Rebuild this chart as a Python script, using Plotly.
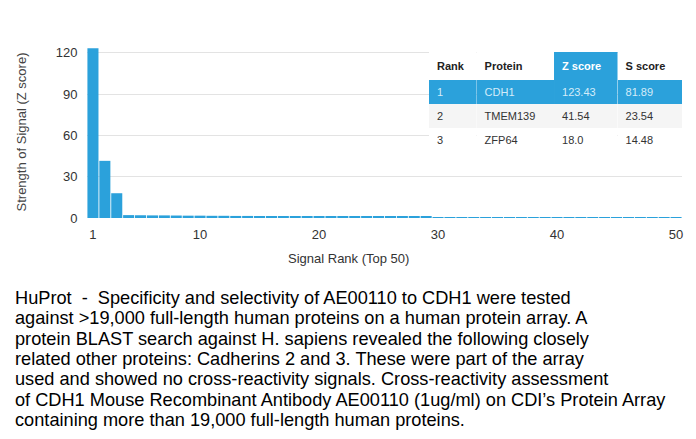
import plotly.graph_objects as go

ranks = list(range(1, 51))
z_scores = [123.43, 41.54, 18.0,
            2.1, 2.0, 1.9, 1.9, 1.8, 1.7, 1.7, 1.6, 1.6, 1.5, 1.5, 1.4, 1.3,
            1.0, 1.0, 0.9, 0.9, 0.9, 0.9, 0.8, 0.8, 0.8, 0.8,
            0.8, 0.8, 0.8, 0.7, 0.7, 0.7, 0.7, 0.7, 0.7, 0.7, 0.7, 0.7,
            0.7, 0.7, 0.7, 0.7, 0.7, 0.7, 0.7, 0.7, 0.7, 0.7, 0.7, 0.7]

table_header = ["Rank", "Protein", "Z score", "S score"]
table_rank = ["1", "2", "3"]
table_protein = ["CDH1", "TMEM139", "ZFP64"]
table_z = ["123.43", "41.54", "18.0"]
table_s = ["81.89", "23.54", "14.48"]

y_ticks = [0, 30, 60, 90, 120]
x_ticks = [1, 10, 20, 30, 40, 50]

caption_lines = [
    "HuProt &nbsp;- &nbsp;Specificity and selectivity of AE00110 to CDH1 were tested",
    "against >19,000 full-length human proteins on a human protein array. A",
    "protein BLAST search against H. sapiens revealed the following closely",
    "related other proteins: Cadherins 2 and 3. These were part of the array",
    "used and showed no cross-reactivity signals. Cross-reactivity assessment",
    "of CDH1 Mouse Recombinant Antibody AE00110 (1ug/ml) on CDI\u2019s Protein Array",
    "containing more than 19,000 full-length human proteins.",
]

BLUE = "#2ba1db"
FONT = "Liberation Sans"

# page body has an 8px margin; the figure is sized so it fits the window
W, H = 688, 431
PL, PR, PT, PB = 87, 682, 52 - 6, 218   # plot area in window pixels

def px(X):
    return (X - PL) / (PR - PL)

def py(Y):
    return (PB - Y) / (PB - PT)

fig = go.Figure()
fig.add_trace(go.Bar(x=ranks, y=z_scores, marker=dict(color=BLUE, line=dict(width=0)),
                     hoverinfo="skip"))

row_fill = [BLUE, "#f5f5f5", "#ffffff"]
row_font = ["#d4ecf9", "#333333", "#333333"]
fig.add_trace(go.Table(
    domain=dict(x=[px(429), 1.0], y=[py(151), py(52)]),
    columnwidth=[48, 78, 64, 65],
    header=dict(
        values=["<b>%s</b>" % h for h in table_header],
        fill_color=["#ffffff", "#ffffff", BLUE, "#ffffff"],
        font=dict(family=FONT, size=11, color=["#222222", "#222222", "#ffffff", "#222222"]),
        line=dict(width=0, color="rgba(0,0,0,0)"),
        align="left", height=25,
    ),
    cells=dict(
        values=[table_rank, table_protein, table_z, table_s],
        fill_color=[row_fill] * 4,
        font=dict(family=FONT, size=11, color=[row_font] * 4),
        line=dict(width=0, color="rgba(0,0,0,0)"),
        align="left", height=24,
    ),
))

for i, line in enumerate(caption_lines):
    fig.add_annotation(text=line, xref="paper", yref="paper",
                       x=px(14), y=py(298 + i * 20.35),
                       xanchor="left", yanchor="middle", showarrow=False, borderpad=0,
                       font=dict(family="Liberation Sans", size=18.2, color="#000000"))

fig.add_annotation(text="Signal Rank (Top 50)", xref="paper", yref="paper",
                   x=px(348), y=py(258), xanchor="center", yanchor="middle",
                   showarrow=False, font=dict(family=FONT, size=13, color="#333333"))

fig.update_layout(
    width=W, height=H,
    margin=dict(l=PL - 8, r=W - (PR - 8), t=PT - 8, b=H - (PB - 8), autoexpand=False),
    paper_bgcolor="white", plot_bgcolor="white",
    showlegend=False, bargap=0.07,
    font=dict(family=FONT, size=13, color="#444444"),
    xaxis=dict(range=[0.5, 50.5], tickvals=x_ticks, showgrid=False, zeroline=False,
               showline=False, ticks="outside", ticklen=4, tickcolor="rgba(0,0,0,0)",
               tickfont=dict(size=13, color="#333333")),
    yaxis=dict(range=[0, 125], tickvals=y_ticks, showgrid=True, gridcolor="#e3e3e3",
               zeroline=False, showline=False, ticks="outside", ticklen=6,
               tickcolor="rgba(0,0,0,0)", tickfont=dict(size=13, color="#333333"),
               title=dict(text="Strength of Signal (Z score)", standoff=26,
                          font=dict(size=13, color="#444444"))),
)

fig.write_html("out.html")
